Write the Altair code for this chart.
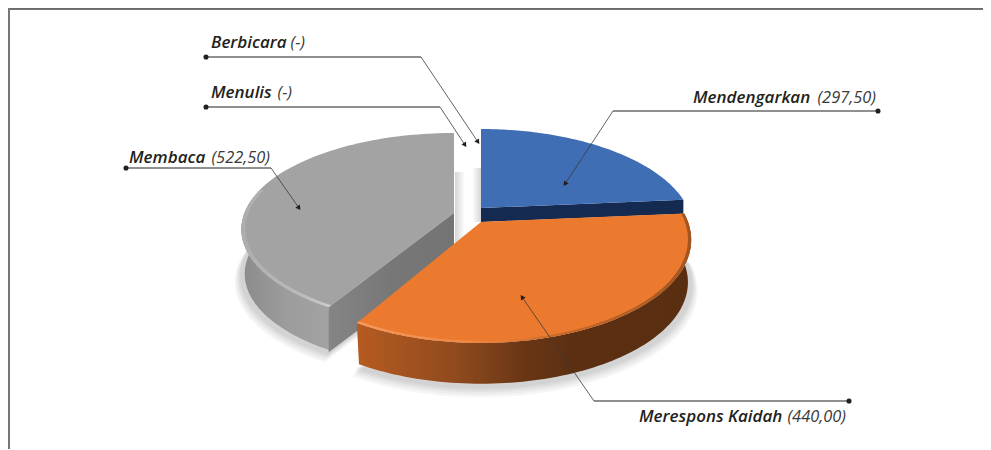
import math
import altair as alt
import pandas as pd

# ---- values ----
categories = ["Mendengarkan", "Merespons Kaidah", "Membaca", "Menulis", "Berbicara"]
values = [297.50, 440.00, 522.50, 0, 0]
value_labels = ["(297,50)", "(440,00)", "(522,50)", "(-)", "(-)"]

# ---- label layout (page pixels) ----
name_x = [693, 639, 129, 211, 211]
text_y = [103, 422, 163, 98, 48]
value_x = [876, 846, 270, 292, 305]
dot_x = [878, 849, 126, 206, 206]
dot_y = [111, 401, 168, 107, 57]
elbow_x = [613, 594, 271, 440, 421]
tip_x = [565, 522, 299, 465, 478]
tip_y = [184, 297, 208, 145, 142]

W, H = 975, 441
OX, OY = 8, 8

# ---- tilted-pie view per slice: (focal width, vertical scale, perspective) ----
VIEW_BLUE = (207.0, 96.2, 0.218)
VIEW_ORANGE = (207.0, 100.0, 0.173)
VIEW_GRAY = (209.5, 93.6, 0.17)


def pt(theta_deg, r, c, view, dy=0.0):
    F, A, K = view
    t = math.radians(theta_deg)
    X, Y = r * math.sin(t), r * math.cos(t)
    d = 1 + K * Y
    return [c[0] + F * X / d - OX, c[1] - A * Y / d + dy - OY]


def arc(t1, t2, r, c, view, dy=0.0, n=90):
    return [pt(t1 + (t2 - t1) * i / n, r, c, view, dy) for i in range(n + 1)]


def sector(t1, t2, c, view, dy=0.0, r=1.0):
    return [[c[0] - OX, c[1] + dy - OY]] + arc(t1, t2, r, c, view, dy)


def wall(t1, t2, c, view, depth, r_bottom=1.0):
    return arc(t1, t2, 1.0, c, view) + arc(t2, t1, r_bottom, c, view, depth)


def band(t1, t2, c, view, r):
    return arc(t1, t2, 1.0, c, view) + arc(t2, t1, r, c, view)


def shape(coords, fill, opacity=1.0):
    ring = [list(p) for p in coords] + [list(coords[0])]
    feature = {"type": "Feature", "properties": {},
               "geometry": {"type": "Polygon", "coordinates": [ring]}}
    return (alt.Chart(alt.Data(values=[feature]))
            .mark_geoshape(fill=fill, strokeWidth=0, opacity=opacity)
            .project(type="identity", scale=1, translate=[0, 0]))


def grad(*stops):
    return alt.Gradient(
        gradient="linear",
        stops=[alt.GradientStop(color=c, offset=o) for o, c in stops],
        x1=0, y1=0, x2=1, y2=0)


total = sum(values)
a0 = 0.0
a1 = a0 + values[0] / total * 360
a2 = a1 + values[1] / total * 360
a3 = a2 + values[2] / total * 360

BLUE_C = (481, 208)
ORANGE_C = (481, 222)
GRAY_C = (454, 213)
D_ORANGE, D_GRAY, D_BLUE = 43, 45, 14

layers = []

# soft floor shadows
for s, dy in [(1.03, 7), (1.024, 5.5), (1.018, 4), (1.012, 3), (1.006, 2)]:
    layers.append(shape(sector(a2, a3, GRAY_C, VIEW_GRAY, D_GRAY + dy, s), "#000000", 0.035))
    layers.append(shape(sector(a1, a2, ORANGE_C, VIEW_ORANGE, D_ORANGE + dy, s), "#000000", 0.035))

# gap shadows beside the slices
strips = [(455, 465, 172, 262, "#d6d6d6", "#ffffff"), (472, 481, 168, 222, "#ffffff", "#d6d6d6")]
for x0, x1, y0, y1, c0, c1_ in strips:
    p = [[x0 - OX, y0 - OY], [x1 - OX, y0 - OY], [x1 - OX, y1 - OY], [x0 - OX, y1 - OY]]
    layers.append(shape(p, grad((0, c0), (1, c1_))))

# Membaca (gray)
layers.append(shape(wall(a2, 300, GRAY_C, VIEW_GRAY, D_GRAY, 0.985),
                    grad((0, "#8b8b8b"), (0.5, "#9c9c9c"), (1, "#a3a3a3"))))
c1 = pt(a2, 1.0, GRAY_C, VIEW_GRAY)
cut = [[GRAY_C[0] - OX, GRAY_C[1] - OY], c1, [c1[0], c1[1] + D_GRAY],
       [GRAY_C[0] - OX, GRAY_C[1] + D_GRAY - OY]]
layers.append(shape(cut, grad((0, "#858585"), (0.5, "#777777"), (1, "#747474"))))
layers.append(shape(sector(a2, a3, GRAY_C, VIEW_GRAY), "#a2a3a2"))
layers.append(shape(band(a2, 285, GRAY_C, VIEW_GRAY, 0.982),
                    grad((0, "#adadad"), (0.65, "#bbbbbb"), (1, "#cbcbcb"))))

# Mendengarkan (blue)
b1 = pt(a1, 1.0, BLUE_C, VIEW_BLUE)
blue_cut = [[BLUE_C[0] - OX, BLUE_C[1] - OY], b1, [b1[0], b1[1] + D_BLUE],
            [BLUE_C[0] - OX, BLUE_C[1] + D_BLUE - OY]]
layers.append(shape(blue_cut, "#142a50"))
layers.append(shape(sector(a0, a1, BLUE_C, VIEW_BLUE), "#3f6eb5"))

# Merespons Kaidah (orange)
layers.append(shape(wall(a1, a2, ORANGE_C, VIEW_ORANGE, D_ORANGE, 0.985),
                    grad((0, "#b65b21"), (0.3, "#8f4a1e"), (0.5, "#693615"), (0.65, "#5c2f12"), (1, "#5a2e11"))))
layers.append(shape(sector(a1, a2, ORANGE_C, VIEW_ORANGE), "#eb7a2e"))
layers.append(shape(band(a1, a2, ORANGE_C, VIEW_ORANGE, 0.985),
                    grad((0, "#f49a5e"), (0.35, "#ef8642"), (0.6, "#c96a2a"), (1, "#a3541f"))))

layer_chart = alt.layer(*layers)

# ---- annotation table ----
lab = pd.DataFrame({
    "name": categories,
    "val": value_labels,
    "nx": [v - OX for v in name_x],
    "vx": [v - OX for v in value_x],
    "ty": [v - OY for v in text_y],
    "dx": [v - OX for v in dot_x],
    "dy": [v - OY for v in dot_y],
    "ex": [v - OX for v in elbow_x],
    "tx": [v - OX for v in tip_x],
    "tipy": [v - OY for v in tip_y],
})
lab["ang"] = [
    (math.degrees(math.atan2(t - e, -(u - d))) % 360)
    for t, e, u, d in zip(tip_x, elbow_x, tip_y, dot_y)
]

X = lambda f: alt.X(f, scale=None, axis=None)
Y = lambda f: alt.Y(f, scale=None, axis=None)

base = alt.Chart(lab)
horiz = base.mark_rule(color="#6b6b6b", strokeWidth=1.4).encode(x=X("dx:Q"), x2="ex:Q", y=Y("dy:Q"))
diag = base.mark_rule(color="#3a3a3a", strokeWidth=0.8).encode(x=X("ex:Q"), x2="tx:Q", y=Y("dy:Q"), y2="tipy:Q")
dots = base.mark_circle(color="#231f20", size=26, opacity=1).encode(x=X("dx:Q"), y=Y("dy:Q"))
heads = base.mark_point(shape="triangle-up", filled=True, color="#231f20", size=30, opacity=1).encode(
    x=X("tx:Q"), y=Y("tipy:Q"), angle=alt.Angle("ang:Q", scale=None))

FONT = "Open Sans"
names = base.mark_text(font=FONT, fontSize=17, fontStyle="italic", fontWeight=600, align="left",
                       baseline="alphabetic", color="#231f20").encode(
    x=X("nx:Q"), y=Y("ty:Q"), text="name:N")
vals = base.mark_text(font=FONT, fontSize=16.4, fontStyle="italic", align="right",
                      baseline="alphabetic", color="#3a3a3a").encode(
    x=X("vx:Q"), y=Y("ty:Q"), text="val:N")

# frame
frame = pd.DataFrame({"k": [0]})
top_line = alt.Chart(frame).mark_rule(color="#444444", strokeWidth=1.5).encode(
    x=alt.value(0), x2=alt.value(W), y=alt.value(1))
left_line = alt.Chart(frame).mark_rule(color="#777777", strokeWidth=2).encode(
    x=alt.value(1), y=alt.value(0), y2=alt.value(H))

chart = (
    alt.layer(layer_chart, top_line, left_line, horiz, diag, heads, dots, names, vals)
    .properties(width=W, height=H, padding=0, autosize=alt.AutoSizeParams(type="none"))
    .configure_view(stroke=None)
    .configure(background="#ffffff")
)

chart.save("out.html", embed_options={"renderer": "svg", "actions": False})
